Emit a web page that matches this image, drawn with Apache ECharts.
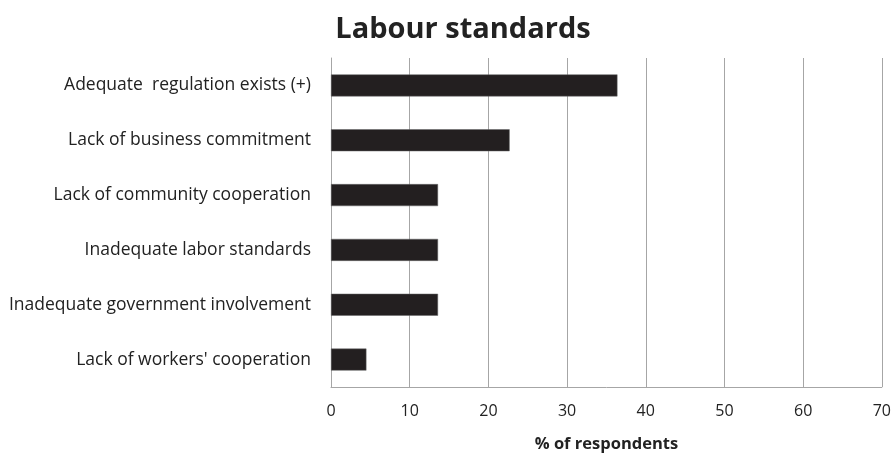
<!DOCTYPE html>
<html>
<head>
<meta charset="utf-8">
<script src="https://cdn.jsdelivr.net/npm/echarts@6/dist/echarts.min.js"></script>
<style>
  html, body { margin: 0; padding: 0; background: #fff; }
  #chart { width: 894px; height: 458px; }
</style>
</head>
<body>
<div id="chart"></div>
<script>
// categories listed bottom to top (category axis grows upward)
const categories = [
    "Lack of workers' cooperation",
    'Inadequate government involvement',
    'Inadequate labor standards',
    'Lack of community cooperation',
    'Lack of business commitment',
    'Adequate  regulation exists (+)'
];
const respondents = [4.5, 13.6, 13.6, 13.6, 22.7, 36.4];
const xTicks = [0, 70, 10];

const chart = echarts.init(document.getElementById('chart'));
const font = '"Open Sans", "Noto Sans", sans-serif';

chart.setOption({
    animation: false,
    title: {
        text: 'Labour standards',
        left: 458,
        textAlign: 'center',
        top: 10,
        textStyle: {fontFamily: font, fontSize: 29, fontWeight: 'bold', color: '#222'}
    },
    grid: {left: 331, right: 11, top: 58, bottom: 69, containLabel: false},
    xAxis: {
        type: 'value',
        min: xTicks[0],
        max: xTicks[1],
        interval: xTicks[2],
        name: '% of respondents',
        nameLocation: 'middle',
        nameGap: 49,
        nameTextStyle: {fontFamily: font, fontSize: 16.5, fontWeight: 'bold', color: '#222'},
        axisLine: {show: true, lineStyle: {color: '#a6a6a6', width: 1}},
        axisTick: {show: false},
        axisLabel: {fontFamily: font, fontSize: 16, color: '#222', margin: 16},
        splitLine: {show: true, lineStyle: {color: '#a6a6a6', width: 1}}
    },
    yAxis: {
        type: 'category',
        data: categories,
        axisLine: {show: true, lineStyle: {color: '#a6a6a6', width: 1}},
        axisTick: {show: false},
        axisLabel: {fontFamily: font, fontSize: 17.5, color: '#222', margin: 20}
    },
    series: [{
        type: 'bar',
        data: respondents,
        barWidth: 22,
        itemStyle: {color: '#231f20', borderColor: '#666', borderWidth: 0.5}
    }]
});
</script>
</body>
</html>
